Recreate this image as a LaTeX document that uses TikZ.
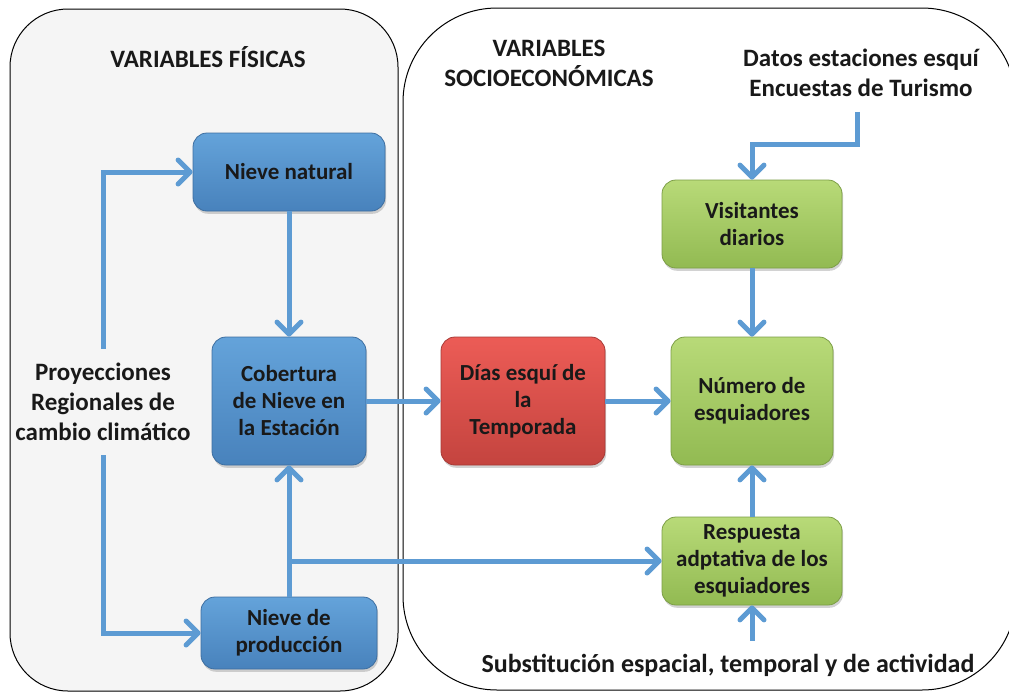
\documentclass[tikz,border=0pt]{standalone}
\usepackage{fontspec}
\setmainfont{Carlito}
\usetikzlibrary{arrows.meta,shadows}

\definecolor{flecha}{RGB}{93,155,211}
\definecolor{azularriba}{RGB}{100,163,218}
\definecolor{azulabajo}{RGB}{72,130,188}
\definecolor{rojoarriba}{RGB}{236,92,86}
\definecolor{rojoabajo}{RGB}{196,68,63}
\definecolor{verdearriba}{RGB}{184,218,120}
\definecolor{verdeabajo}{RGB}{146,186,82}
\definecolor{fondo}{RGB}{245,245,245}

\tikzset{
  caja/.style={rectangle, rounded corners=7pt, align=center, text=black!90,
    font=\bfseries\fontsize{11.5}{13.5}\selectfont, line width=0.4pt,
    drop shadow={shadow xshift=0.6pt, shadow yshift=-1.4pt, opacity=0.35}},
  cajaazul/.style={caja, draw=azulabajo!85!black, top color=azularriba, bottom color=azulabajo},
  cajaroja/.style={caja, draw=rojoabajo!85!black, top color=rojoarriba, bottom color=rojoabajo},
  cajaverde/.style={caja, draw=verdeabajo!85!black, top color=verdearriba, bottom color=verdeabajo},
  linea/.style={draw=flecha, line width=2.5pt},
  flechita/.style={linea, -{Straight Barb[length=6pt, width=12pt, line cap=round, line join=round]}},
  rotulo/.style={align=center, text=black!90, font=\bfseries\fontsize{12.5}{15}\selectfont}
}

\begin{document}
\begin{tikzpicture}[x=0.5pt,y=-0.5pt]
  \useasboundingbox (0,0) rectangle (1009,693);

  %the two panels
  \draw[fill=fondo, line width=0.5pt, rounded corners=29pt] (10,9) rectangle (398,691);
  \draw[fill=white, line width=0.5pt, rounded corners=47pt] (403,8) rectangle (1016,690);

  %titles and sources
  \node [rotulo] (fisicas) at (208,57) {VARIABLES FÍSICAS};
  \node [rotulo] (socio) at (549,63) {VARIABLES\\SOCIOECONÓMICAS};
  \node [rotulo] (datos) at (861,73) {Datos estaciones esquí\\Encuestas de Turismo};
  \node [rotulo, inner ysep=7pt] (proyecciones) at (103,402) {Proyecciones\\Regionales de\\cambio climático};
  \node [rotulo, font=\bfseries\fontsize{13}{15}\selectfont] (substitucion) at (728,665) {Substitución espacial, temporal y de actividad};

  %boxes
  \node [cajaazul, minimum width=96pt, minimum height=39pt] (natural) at (289,172) {Nieve natural};
  \node [cajaazul, minimum width=77pt, minimum height=64pt] (cobertura) at (289,401) {Cobertura\\de Nieve en\\la Estación};
  \node [cajaazul, minimum width=88pt, minimum height=36pt] (produccion) at (289,633) {Nieve de\\producción};
  \node [cajaroja, minimum width=82pt, minimum height=64pt] (dias) at (523,401) {Días esquí de\\la\\Temporada};
  \node [cajaverde, minimum width=81pt, minimum height=64pt] (numero) at (752,401) {Número de\\esquiadores};
  \node [cajaverde, minimum width=90pt, minimum height=44pt] (visitantes) at (752,224) {Visitantes\\diarios};
  \node [cajaverde, minimum width=90pt, minimum height=44pt] (respuesta) at (752,561) {Respuesta\\adptativa de los\\esquiadores};

  %connectors
  \draw [flechita] (proyecciones.north) |- (natural.west);
  \draw [flechita] (proyecciones.south) |- (produccion.west);
  \draw [flechita] (natural) -- (cobertura);
  \draw [flechita] (produccion) -- (cobertura);
  \draw [flechita] (produccion.north |- respuesta.west) -- (respuesta.west);
  \draw [flechita] (cobertura) -- (dias);
  \draw [flechita] (dias) -- (numero);
  \draw [flechita] (visitantes) -- (numero);
  \draw [flechita] (respuesta) -- (numero);
  \draw [flechita] ([yshift=-4pt]datos.south -| 857,0) -- ++(0,33) -| (visitantes.north);
  \draw [flechita] ([yshift=3pt]substitucion.north -| respuesta.south) -- (respuesta.south);

\end{tikzpicture}
\end{document}
